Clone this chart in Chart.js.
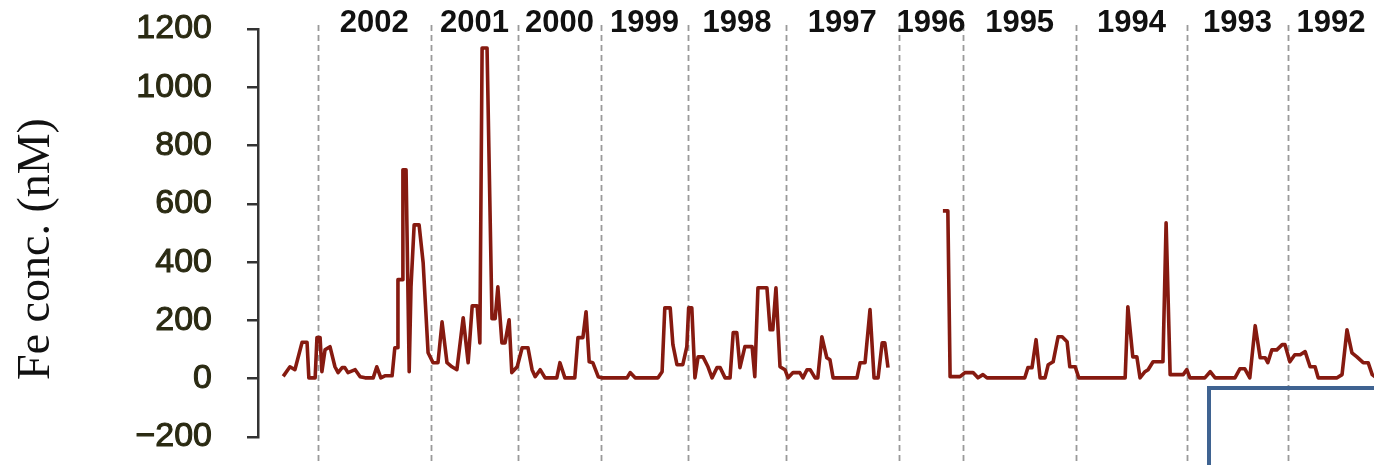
<!DOCTYPE html>
<html>
<head>
<meta charset="utf-8">
<script src="https://cdn.jsdelivr.net/npm/chart.js@4/dist/chart.umd.min.js"></script>
<style>
  html, body { margin: 0; padding: 0; background: #fff; overflow: hidden; }
  #wrap { position: relative; width: 1374px; height: 465px; }
  #box { position: absolute; left: 1207px; top: 386px; width: 200px; height: 120px;
         border: 4px solid #3f6391; box-sizing: border-box; pointer-events: none; }
</style>
</head>
<body>
<div id="wrap">
  <canvas id="c" width="1374" height="465"></canvas>
  <div id="box"></div>
</div>
<script>
// Sample number (sequential, newest on the left)
const sampleIndex = [
  5.6, 7.1, 8.2, 9.8, 10.9, 11.3, 12.7, 13.1, 13.8, 14.2, 14.9, 16, 17.1, 17.8, 18.7, 19.3, 20, 21.6, 22.7, 23.8,
  25.6, 26.4, 27.3, 28.2, 29.8, 30.4, 30.9, 31.1, 32, 32.2, 32.9, 33.6, 34, 34.7, 35.8, 36.7, 37.8, 38.9, 40, 40.9,
  42, 43.1, 44.2, 45.6, 46.7, 47.6, 48.7, 49.3, 49.8, 50.9, 51.3, 52, 52.7, 53.3, 54.2, 54.9, 55.8, 56.4, 57.6, 58.7,
  60, 60.9, 61.6, 62.7, 63.8, 66.4, 67.1, 68.2, 70.4, 71.1, 72.2, 72.9, 73.6, 74.4, 75.6, 76.4, 82, 82.7, 83.8, 88.9,
  89.8, 90.4, 91.6, 92.2, 93.1, 94.4, 95.3, 95.7, 96.4, 97.1, 97.8, 98.9, 100, 100.9, 102, 102.7, 103.8, 104.9, 105.6, 106.4,
  107.1, 108.2, 109.8, 110.4, 111.1, 113.1, 113.8, 114.4, 115.1, 116, 117.1, 117.8, 118.9, 120.4, 121.1, 122, 122.7, 123.8, 124.4, 125.3,
  126.4, 127.1, 127.8, 133.1, 133.8, 134.9, 136, 136.9, 137.8, 138.7, 139.3, 140, 146,
  152.2, 153.3, 153.8, 156, 157.1, 158.9, 160, 161.1, 162, 170.4, 171.1, 172, 172.9, 173.8, 174.9, 175.6, 176.7, 177.8, 178.7, 179.8,
  180.4, 181.6, 182.4, 192.7, 193.3, 194.4, 195.3, 196, 197.1, 197.8, 198.9, 201.1, 201.8, 202.7, 205.6, 206.4, 207.1, 210.4, 211.6, 212.7,
  217.1, 218.2, 219.3, 220.4, 221.6, 222.7, 223.8, 224.4, 225.3, 226.4, 227.6, 228.2, 229.3, 230.4, 231.6, 232.7, 233.8, 234.9, 235.6, 239.8,
  240.9, 242, 243.1, 244.2, 245.6, 246.7, 247.6, 248.4
];
// Fe concentration (nM)
const feConc = [
  8, 41, 31, 125, 125, 3, 3, 141, 141, 24, 99, 110, 41, 21, 38, 38, 21, 31, 7, 3,
  3, 41, 3, 10, 10, 106, 106, 340, 340, 717, 717, 24, 315, 528, 528, 398, 89, 55, 55, 195,
  55, 41, 31, 209, 55, 250, 250, 123, 1135, 1135, 795, 206, 206, 315, 123, 123, 202, 21, 41, 106,
  106, 31, 7, 31, 3, 3, 55, 3, 3, 141, 141, 230, 58, 55, 7, 3, 3, 21, 3, 3,
  24, 243, 243, 117, 48, 48, 110, 243, 243, 3, 75, 75, 41, 3, 38, 38, 3, 3, 158, 158,
  38, 110, 110, 7, 312, 312, 168, 168, 312, 41, 31, 3, 21, 21, 3, 31, 31, 3, 3, 144,
  72, 65, 3, 3, 55, 55, 237, 3, 3, 123, 123, 38, null,
  576, 576, 7, 7, 21, 21, 3, 14, 3, 3, 38, 38, 134, 3, 3, 48, 58, 144, 144, 127,
  41, 41, 3, 3, 247, 75, 75, 3, 24, 31, 58, 58, 535, 14, 14, 31, 3, 3, 24, 3,
  3, 34, 34, 3, 182, 72, 72, 55, 99, 99, 117, 117, 58, 82, 82, 93, 41, 41, 3, 3,
  14, 168, 89, 75, 55, 55, 14, 5
];
const yearLabels = ['2002', '2001', '2000', '1999', '1998', '1997', '1996', '1995', '1994', '1993', '1992'];
// sample numbers at which each year begins / ends (dashed separators)
const yearBoundaries = [13.3, 38.4, 57.8, 76.2, 95.6, 117.3, 142.4, 156.7, 181.8, 206.4, 228.9, 248];
const yTickMin = -200, yTickMax = 1200, yTickStep = 200;
const xMin = 0, xMax = 248;

const points = sampleIndex.map((x, i) => ({ x: x, y: feConc[i] }));

const yearPlugin = {
  id: 'years',
  beforeDatasetsDraw(chart) {
    const ctx = chart.ctx, xs = chart.scales.x;
    ctx.save();
    ctx.strokeStyle = '#9a9a9a';
    ctx.lineWidth = 1.8;
    ctx.setLineDash([6, 4]);
    for (let i = 0; i < yearBoundaries.length - 1; i++) {
      const px = Math.round(xs.getPixelForValue(yearBoundaries[i])) + 0.5;
      ctx.beginPath();
      ctx.moveTo(px, 25);
      ctx.lineTo(px, chart.height);
      ctx.stroke();
    }
    ctx.restore();
  },
  afterDraw(chart) {
    const ctx = chart.ctx, xs = chart.scales.x;
    ctx.save();
    ctx.fillStyle = '#111';
    ctx.font = 'bold 31px "Liberation Sans", Arial, sans-serif';
    ctx.textAlign = 'center';
    ctx.textBaseline = 'middle';
    for (let i = 0; i < yearLabels.length; i++) {
      const a = yearBoundaries[i], b = yearBoundaries[i + 1];
      const px = xs.getPixelForValue((a + b) / 2);
      ctx.fillText(yearLabels[i], px, 23);
    }
    // y axis title
    ctx.translate(49, 249);
    ctx.rotate(-Math.PI / 2);
    ctx.font = '46px "Liberation Serif", "Times New Roman", serif';
    ctx.textAlign = 'center';
    ctx.textBaseline = 'alphabetic';
    ctx.fillStyle = '#111';
    ctx.fillText('Fe conc. (nM)', 0, 0);
    ctx.restore();
  }
};

new Chart(document.getElementById('c'), {
  type: 'line',
  data: {
    datasets: [{
      data: points,
      borderColor: '#861a10',
      borderWidth: 3.6,
      borderJoinStyle: 'round',
      pointRadius: 0,
      tension: 0,
      spanGaps: false,
      fill: false
    }]
  },
  options: {
    responsive: false,
    animation: false,
    devicePixelRatio: 1,
    layout: { padding: { top: 29, bottom: 28, left: 0, right: 0 } },
    plugins: { legend: { display: false }, tooltip: { enabled: false }, title: { display: false } },
    scales: {
      x: { type: 'linear', min: xMin, max: xMax, display: false },
      y: {
        min: yTickMin, max: yTickMax,
        ticks: {
          stepSize: yTickStep,
          padding: 35,
          color: '#2a2a12',
          textStrokeColor: '#2a2a12',
          textStrokeWidth: 1,
          font: { size: 34, family: '"Liberation Sans", Arial, sans-serif' },
          callback: v => v < 0 ? '\u2212' + Math.abs(v) : String(v)
        },
        grid: { drawOnChartArea: false, drawTicks: true, tickLength: 11, color: '#333', lineWidth: 2.5 },
        border: { display: true, color: '#333', width: 2.5 },
        afterFit: s => { s.width = 258; s.paddingTop = 0; s.paddingBottom = 0; }
      }
    }
  },
  plugins: [yearPlugin]
});
</script>
</body>
</html>
